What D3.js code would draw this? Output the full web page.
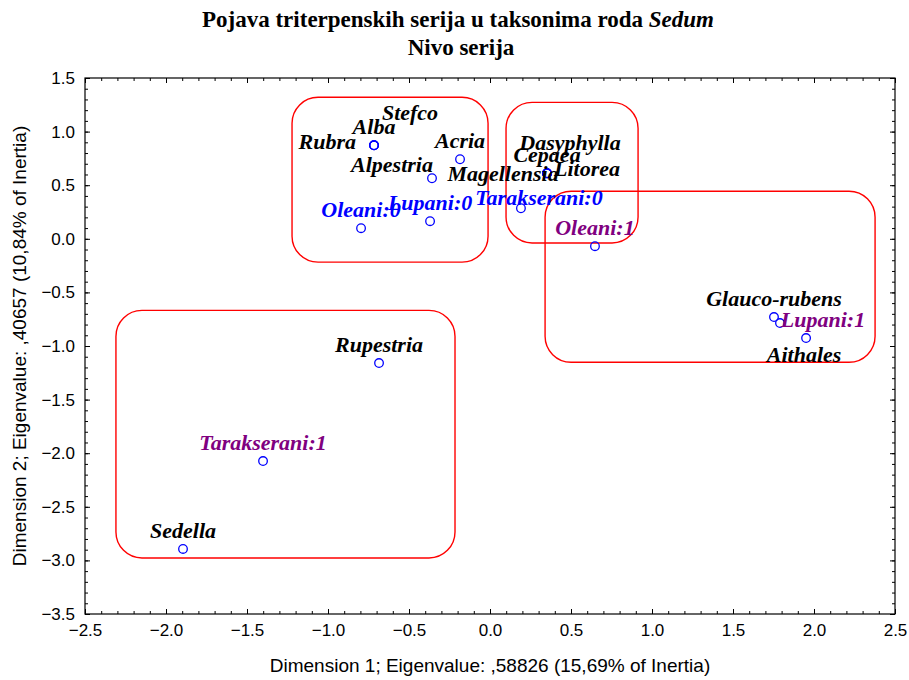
<!DOCTYPE html>
<html>
<head>
<meta charset="utf-8">
<script src="https://cdnjs.cloudflare.com/ajax/libs/d3/7.8.5/d3.min.js"></script>
<style>
  body { margin: 0; background: #fff; }
  svg { display: block; }
</style>
</head>
<body>
<div id="chart"></div>
<script>
// point names, coordinates on dimension 1 and dimension 2, and group (0 = taxon, 1 = series:0, 2 = series:1)
const names = ["Rubra", "Alba", "Stefco", "Acria", "Alpestria", "Magellensia", "Dasyphylla", "Cepaea", "Litorea",
  "Lupani:0", "Oleani:0", "Tarakserani:0", "Oleani:1", "Glauco-rubens", "Lupani:1", "Aithales",
  "Rupestria", "Tarakserani:1", "Sedella"];
const dim1 = [-0.716, -0.716, -0.716, -0.185, -0.358, 0.352, 0.352, 0.352, 0.352,
  -0.370, -0.796, 0.191, 0.648, 1.753, 1.790, 1.951,
  -0.685, -1.401, -1.895];
const dim2 = [0.872, 0.872, 0.872, 0.742, 0.565, 0.611, 0.611, 0.611, 0.611,
  0.164, 0.099, 0.285, -0.069, -0.730, -0.786, -0.926,
  -1.159, -2.073, -2.893];
const kind = [0, 0, 0, 0, 0, 0, 0, 0, 0,
  1, 1, 1, 2, 0, 2, 0,
  0, 2, 0];

// groups drawn as rounded boxes: [x0, x1, y0, y1] in data units
const groupBoxes = [
  [-1.222, -0.012, 1.320, -0.218],
  [0.099, 0.914, 1.273, -0.039],
  [0.340, 2.377, 0.444, -1.152],
  [-2.309, -0.216, -0.668, -2.977]
];

const xTicks = [-2.5, -2.0, -1.5, -1.0, -0.5, 0.0, 0.5, 1.0, 1.5, 2.0, 2.5];
const yTicks = [1.5, 1.0, 0.5, 0.0, -0.5, -1.0, -1.5, -2.0, -2.5, -3.0, -3.5];

const width = 909, height = 680;
const margin = {top: 78, right: 14, bottom: 66, left: 85};

// label nudges so the overlapping names stay readable (pixels)
const labelShift = {
  "Rubra": [-18, 4, "end"], "Stefco": [36, -25], "Alpestria": [-40, -6],
  "Magellensia": [-44, 8], "Dasyphylla": [23, -23], "Litorea": [40, 3],
  "Tarakserani:0": [18, -3], "Lupani:1": [43, 4], "Aithales": [-2, 24]
};
const kindColor = ["#000000", "#0000ff", "#800080"];

const points = names.map((n, i) => ({name: n, x: dim1[i], y: dim2[i], kind: kind[i]}));

const svg = d3.select("#chart").append("svg")
  .attr("width", width)
  .attr("height", height);

const x = d3.scaleLinear().domain([-2.5, 2.5]).range([margin.left, width - margin.right]);
const y = d3.scaleLinear().domain([-3.5, 1.5]).range([height - margin.bottom, margin.top]);

// minor ticks every 0.1
const minorX = d3.range(-25, 26).map(v => v / 10);
const minorY = d3.range(-35, 16).map(v => v / 10);

function tickAxis(axisFn, scale, major, minor, pos, showLabels) {
  const g = svg.append("g").attr("transform", pos);
  g.call(axisFn(scale).tickValues(minor).tickSize(-3).tickFormat(""));
  const gm = svg.append("g").attr("transform", pos);
  gm.call(axisFn(scale).tickValues(major).tickSize(-5).tickPadding(10)
    .tickFormat(showLabels ? d3.format(".1f") : ""));
  [g, gm].forEach(s => {
    s.select(".domain").remove();
    s.selectAll("line").attr("stroke", "#000");
    s.selectAll("text").attr("font-family", "Liberation Sans, Arial, sans-serif")
      .attr("font-size", 17).attr("fill", "#000");
  });
  return gm;
}

const plotBottom = height - margin.bottom, plotRight = width - margin.right;
tickAxis(d3.axisBottom, x, xTicks, minorX, `translate(0,${plotBottom})`, true);
tickAxis(d3.axisTop, x, xTicks, minorX, `translate(0,${margin.top})`, false);
tickAxis(d3.axisLeft, y, yTicks, minorY, `translate(${margin.left},0)`, true);
tickAxis(d3.axisRight, y, yTicks, minorY, `translate(${plotRight},0)`, false);

// frame
svg.append("rect")
  .attr("x", margin.left).attr("y", margin.top)
  .attr("width", plotRight - margin.left).attr("height", plotBottom - margin.top)
  .attr("fill", "none").attr("stroke", "#000").attr("stroke-width", 1.2);

// group boxes
svg.selectAll(".box")
  .data(groupBoxes)
  .enter()
  .append("rect")
  .attr("x", d => x(d[0]))
  .attr("y", d => y(d[2]))
  .attr("width", d => x(d[1]) - x(d[0]))
  .attr("height", d => y(d[3]) - y(d[2]))
  .attr("rx", 26).attr("ry", 26)
  .attr("fill", "none")
  .attr("stroke", "#ff0000")
  .attr("stroke-width", 1.4);

// points
svg.selectAll(".pt")
  .data(points)
  .enter()
  .append("circle")
  .attr("cx", d => x(d.x))
  .attr("cy", d => y(d.y))
  .attr("r", 4.3)
  .attr("fill", "none")
  .attr("stroke", "#0000ff")
  .attr("stroke-width", 1.3);

// labels
svg.selectAll(".lbl")
  .data(points)
  .enter()
  .append("text")
  .attr("x", d => x(d.x) + (labelShift[d.name] ? labelShift[d.name][0] : 0))
  .attr("y", d => y(d.y) + (labelShift[d.name] ? labelShift[d.name][1] : -11))
  .attr("text-anchor", d => (labelShift[d.name] && labelShift[d.name][2]) || "middle")
  .attr("font-family", "Liberation Serif, Times New Roman, serif")
  .attr("font-style", "italic")
  .attr("font-weight", "bold")
  .attr("font-size", 22)
  .attr("fill", d => kindColor[d.kind])
  .text(d => d.name);

// title (sits a bit left of the plot centre, like the original)
const titleX = 458;
const title = svg.append("text")
  .attr("x", titleX)
  .attr("y", 27)
  .attr("text-anchor", "middle")
  .attr("font-family", "Liberation Serif, Times New Roman, serif")
  .attr("font-weight", "bold")
  .attr("font-size", 23);
title.append("tspan").text("Pojava triterpenskih serija u taksonima roda ");
title.append("tspan").attr("font-style", "italic").text("Sedum");
svg.append("text")
  .attr("x", titleX + 3)
  .attr("y", 55)
  .attr("text-anchor", "middle")
  .attr("font-family", "Liberation Serif, Times New Roman, serif")
  .attr("font-weight", "bold")
  .attr("font-size", 23)
  .text("Nivo serija");

// axis titles
svg.append("text")
  .attr("x", (margin.left + plotRight) / 2)
  .attr("y", 672)
  .attr("text-anchor", "middle")
  .attr("font-family", "Liberation Sans, Arial, sans-serif")
  .attr("font-size", 19)
  .text("Dimension 1; Eigenvalue: ,58826 (15,69% of Inertia)");
svg.append("text")
  .attr("transform", `translate(26,${(margin.top + plotBottom) / 2}) rotate(-90)`)
  .attr("text-anchor", "middle")
  .attr("font-family", "Liberation Sans, Arial, sans-serif")
  .attr("font-size", 19)
  .text("Dimension 2; Eigenvalue: ,40657 (10,84% of Inertia)");
</script>
</body>
</html>
